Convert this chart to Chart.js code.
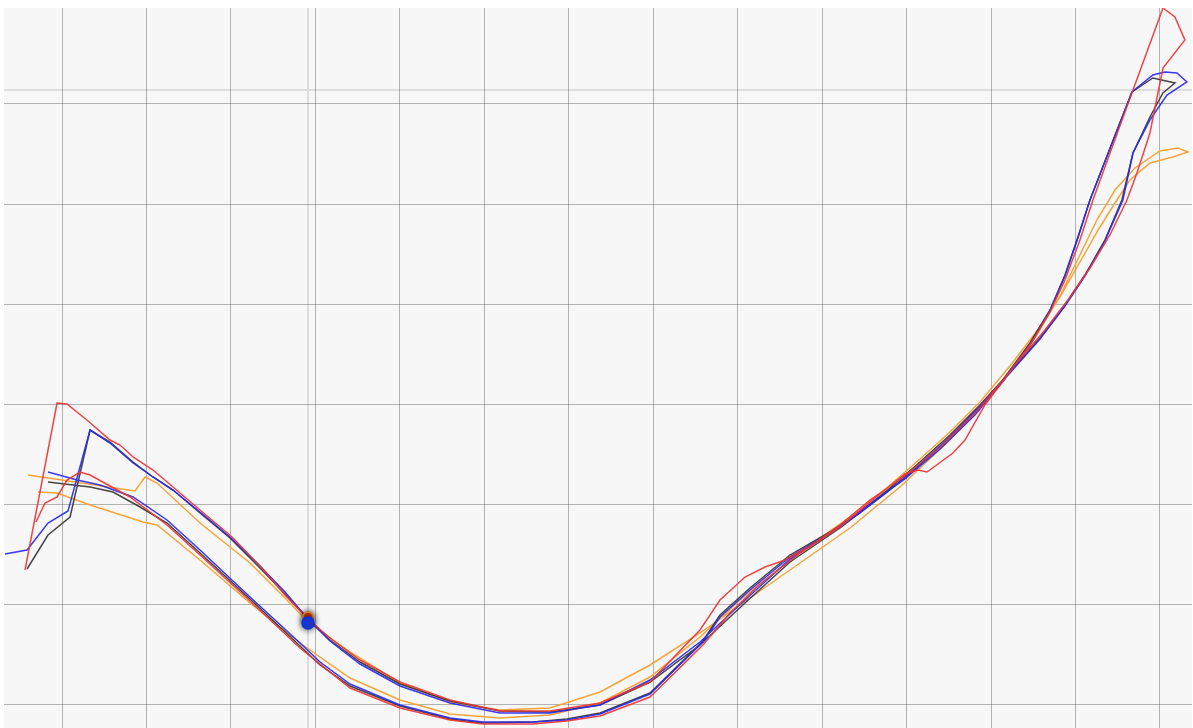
<!DOCTYPE html>
<html>
<head>
<meta charset="utf-8">
<script src="https://cdn.jsdelivr.net/npm/chart.js@4.4.1/dist/chart.umd.min.js"></script>
<style>
  html, body { margin: 0; padding: 0; background: #ffffff; }
  #wrap { position: absolute; left: 0; top: 0; width: 1193px; height: 728px; }
</style>
</head>
<body>
<div id="wrap"><canvas id="chart" width="1193" height="728"></canvas></div>
<script>
// Grid positions
const xTickValues = [0, 10, 20, 30, 40, 50, 60, 70, 80, 90, 100, 110, 120, 130];
const yTickValues = [0, 10, 20, 30, 40, 50, 60];
const xRange = [-6.87, 133.8];
const yRange = [-2.4, 69.6];

// Cursor guides and the highlighted sample
const cursorX = 29.13;
const cursorY = 61.4;
const markerX = [29.13, 29.13];
const markerY = [8.7, 8.1];

// Loops: [x, y] samples, outbound branch first, return branch after the turn
const redPath = [
  [-4.38,13.4],[-0.59,30.1],[0.59,30.0],[3.08,28.3],[5.68,26.4],[6.87,25.9],[8.41,24.7],[10.77,23.4],
  [13.14,21.7],[16.34,19.4],[20.13,16.7],[23.68,13.6],[26.40,10.9],[29.13,8.5],[31.73,6.6],[35.28,4.4],
  [40.02,2.2],[45.94,0.4],[51.86,-0.7],[57.78,-0.7],[63.70,0.1],[69.62,2.2],[75.54,7.4],[77.91,10.4],
  [80.87,12.7],[83.24,13.7],[85.60,14.4],[88.56,15.8],[92.12,17.9],[95.67,20.4],[99.81,22.8],[103.96,25.7],
  [108.10,29.1],[111.65,32.6],[114.61,35.9],[116.98,39.2],[118.76,42.4],[120.53,46.4],[122.07,50.4],
  [126.21,60.0],[130.36,69.6],[131.78,68.7],[132.96,66.4],[130.36,63.6],[128.82,57.1],[127.28,53.1],
  [126.10,50.4],[124.08,46.9],[121.72,43.6],[119.11,40.4],[116.39,37.4],[112.84,33.9],[109.28,29.9],
  [106.92,26.4],[105.49,25.1],[102.42,23.2],[101.35,23.4],[99.81,23.0],[95.67,20.2],[92.12,17.7],
  [87.38,15.1],[82.64,12.0],[79.09,9.1],[75.89,5.9],[69.62,0.7],[63.70,-1.2],[59.79,-1.7],[55.77,-2.0],
  [49.85,-2.0],[45.94,-1.6],[40.02,-0.4],[34.10,1.6],[28.18,5.6],[22.26,10.3],[16.34,14.9],[12.43,17.9],
  [8.05,20.7],[3.32,22.9],[2.13,23.2],[0.59,22.4],[-0.59,20.7],[-2.01,20.1],[-3.08,18.2]
];

const bluePath = [
  [-6.75,15.0],[-4.14,15.4],[-1.66,18.1],[0.71,19.3],[3.32,27.4],[5.68,26.1],[8.41,24.1],[10.77,22.7],
  [13.14,21.4],[16.34,19.2],[19.89,16.7],[23.44,13.8],[26.40,11.2],[29.13,8.5],[31.73,6.3],[35.28,4.0],
  [40.02,1.8],[45.94,0.1],[51.86,-0.9],[57.78,-0.9],[63.70,-0.1],[69.62,2.4],[75.54,6.2],[80.87,10.4],
  [86.20,14.5],[92.12,17.7],[95.67,20.0],[99.81,22.5],[103.96,25.5],[108.10,28.9],[111.65,32.5],
  [114.61,35.9],[116.98,39.3],[118.76,42.8],[120.29,46.6],[121.72,50.4],[124.20,55.8],[126.69,61.2],
  [129.17,62.9],[130.60,63.2],[132.01,63.1],[133.20,62.2],[130.83,60.9],[128.82,58.4],[126.81,55.1],
  [125.62,50.4],[123.49,46.3],[121.12,42.8],[118.76,39.8],[115.80,36.5],[112.24,33.1],[108.69,29.8],
  [105.14,26.7],[101.59,24.0],[98.04,21.4],[94.48,19.1],[90.93,17.1],[86.20,14.7],[81.46,11.4],
  [77.91,8.7],[75.89,6.2],[69.62,1.0],[63.70,-1.0],[59.79,-1.6],[55.77,-1.8],[49.85,-1.8],[45.94,-1.4],
  [40.02,-0.1],[34.10,2.0],[30.55,4.2],[28.18,6.1],[22.26,10.7],[16.34,15.4],[12.43,18.4],[8.41,20.7],
  [4.50,21.9],[1.78,22.4],[-1.66,23.2]
];

const blackPath = [
  [-4.14,13.5],[-1.66,16.9],[0.95,18.7],[3.32,27.4],[5.68,26.2],[8.41,24.2],[10.77,22.7],[13.14,21.4],
  [16.34,19.1],[19.89,16.6],[23.44,13.6],[26.40,11.0],[29.13,8.5],[31.73,6.4],[35.28,4.2],[40.02,2.0],
  [45.94,0.3],[51.86,-0.7],[57.78,-0.8],[63.70,-0.1],[69.62,2.2],[75.54,5.9],[80.87,10.1],[86.20,14.2],
  [92.12,17.6],[95.67,19.9],[99.81,22.6],[103.96,25.7],[108.10,29.1],[111.65,32.7],[114.61,36.1],
  [116.98,39.4],[118.76,42.9],[120.29,46.7],[121.72,50.4],[124.20,55.8],[126.69,61.2],[129.17,62.6],
  [131.78,62.1],[130.36,61.1],[128.82,58.7],[126.81,55.1],[125.50,50.4],[123.49,46.4],[121.12,42.9],
  [118.76,39.9],[115.80,36.6],[112.24,33.2],[108.69,29.9],[105.14,26.9],[101.59,24.2],[98.04,21.6],
  [94.48,19.2],[90.93,17.2],[86.20,14.9],[81.46,11.6],[77.91,8.9],[75.89,6.3],[69.62,1.1],[63.70,-0.9],
  [59.79,-1.5],[55.77,-1.8],[49.85,-1.9],[45.94,-1.5],[40.02,-0.2],[34.10,1.8],[30.55,3.9],[28.18,5.8],
  [22.26,10.5],[16.34,15.1],[12.43,18.1],[9.24,19.7],[6.04,21.2],[3.32,21.7],[-1.66,22.2]
];

const orangePath = [
  [-4.03,22.9],[8.64,21.3],[9.83,22.7],[11.25,22.1],[16.34,18.1],[22.26,14.1],[26.40,10.6],[29.13,8.2],
  [34.10,5.2],[40.02,2.1],[45.94,0.2],[51.86,-0.6],[57.78,-0.4],[63.70,1.2],[69.62,3.9],[75.54,7.1],
  [81.46,10.6],[87.38,14.1],[93.30,17.6],[99.22,21.7],[105.14,26.4],[111.06,31.9],[115.20,36.6],
  [118.16,40.8],[120.53,44.9],[122.54,48.4],[124.68,51.4],[127.04,53.6],[130.00,55.3],[132.13,55.6],
  [133.32,55.2],[131.54,54.7],[128.82,54.1],[126.45,52.4],[124.91,50.4],[122.90,47.7],[120.53,44.2],
  [118.16,40.7],[115.80,37.7],[112.24,33.8],[108.69,30.2],[105.14,27.2],[101.59,24.5],[98.04,21.9],
  [94.48,19.4],[89.75,16.6],[85.01,13.6],[80.28,10.4],[75.54,6.7],[69.62,2.7],[63.70,0.1],[57.78,-1.1],
  [51.86,-1.4],[45.94,-1.0],[40.02,0.4],[34.10,2.6],[28.18,6.1],[22.26,10.1],[16.34,14.4],[11.25,17.9],
  [9.59,18.2],[3.32,19.9],[-0.59,21.1],[-2.84,21.2]
];

const toPoints = arr => arr.map(([x, y]) => ({ x, y }));

const lineSeries = [
  { path: redPath,    color: 'rgba(238,52,52,0.92)' },
  { path: bluePath,   color: 'rgba(40,40,238,0.92)' },
  { path: blackPath,  color: 'rgba(50,50,50,0.9)' },
  { path: orangePath, color: 'rgba(245,160,45,0.95)' }
];

const datasets = [
  {
    label: 'marker',
    data: markerX.map((x, i) => ({ x, y: markerY[i] })),
    showLine: false,
    pointRadius: [5, 6],
    pointBackgroundColor: ['#e8461e', '#1f3df0'],
    pointBorderColor: ['#f08a1a', '#1030d8'],
    pointBorderWidth: 1.5,
    isMarker: true
  },
  ...lineSeries.map(s => ({
    data: toPoints(s.path),
    showLine: true,
    borderColor: s.color,
    borderWidth: 1.5,
    pointRadius: 0,
    tension: 0,
    fill: false
  }))
];

const plotBackground = {
  id: 'plotBackground',
  beforeDraw(chart) {
    const { ctx, chartArea: a } = chart;
    ctx.save();
    ctx.fillStyle = '#f7f7f7';
    ctx.fillRect(a.left, a.top, a.right - a.left, a.bottom - a.top);
    ctx.restore();
  },
  beforeDatasetsDraw(chart) {
    const { ctx, chartArea: a, scales } = chart;
    const px = scales.x.getPixelForValue(cursorX);
    const py = scales.y.getPixelForValue(cursorY);
    ctx.save();
    ctx.strokeStyle = 'rgba(0,0,0,0.10)';
    ctx.lineWidth = 2;
    ctx.beginPath();
    ctx.moveTo(Math.round(px), a.top);
    ctx.lineTo(Math.round(px), a.bottom);
    ctx.moveTo(a.left, Math.round(py));
    ctx.lineTo(a.right, Math.round(py));
    ctx.stroke();
    ctx.restore();
  },
  beforeDatasetDraw(chart, args) {
    if (chart.data.datasets[args.index].isMarker) {
      const ctx = chart.ctx;
      ctx.save();
      ctx.shadowColor = 'rgba(0,0,0,0.75)';
      ctx.shadowBlur = 6;
    }
  },
  afterDatasetDraw(chart, args) {
    if (chart.data.datasets[args.index].isMarker) chart.ctx.restore();
  }
};

new Chart(document.getElementById('chart'), {
  type: 'scatter',
  data: { datasets },
  options: {
    responsive: false,
    animation: false,
    events: [],
    layout: { autoPadding: false, padding: { left: 4, top: 8, right: 1, bottom: 0 } },
    plugins: { legend: { display: false }, tooltip: { enabled: false } },
    scales: {
      x: {
        type: 'linear',
        min: xRange[0], max: xRange[1],
        afterBuildTicks: s => { s.ticks = xTickValues.map(v => ({ value: v })); },
        afterFit: s => { s.height = 0; s.paddingLeft = 0; s.paddingRight = 0; },
        ticks: { display: false, padding: 0 },
        border: { display: false },
        grid: { color: 'rgba(0,0,0,0.28)', lineWidth: 1, drawTicks: false }
      },
      y: {
        type: 'linear',
        min: yRange[0], max: yRange[1],
        afterBuildTicks: s => { s.ticks = yTickValues.map(v => ({ value: v })); },
        afterFit: s => { s.width = 0; s.paddingTop = 0; s.paddingBottom = 0; },
        ticks: { display: false, padding: 0 },
        border: { display: false },
        grid: { color: 'rgba(0,0,0,0.28)', lineWidth: 1, drawTicks: false }
      }
    }
  },
  plugins: [plotBackground]
});
</script>
</body>
</html>
